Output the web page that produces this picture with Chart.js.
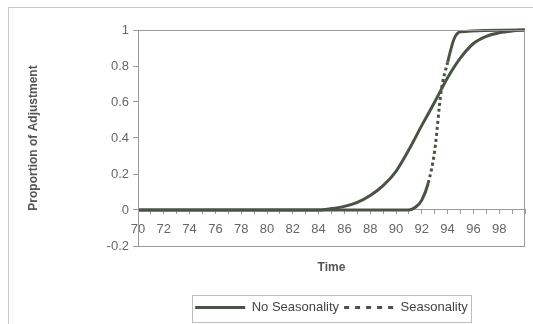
<!DOCTYPE html>
<html>
<head>
<meta charset="utf-8">
<script src="https://cdn.jsdelivr.net/npm/chart.js@4.4.1/dist/chart.umd.min.js"></script>
<style>
  body { margin: 0; background: #fff; }
  #wrap { width: 533px; height: 324px; }
</style>
</head>
<body>
<div id="wrap"><canvas id="chart"></canvas></div>
<script>
// values
const noSeasTime = [70, 84, 85, 86, 87, 88, 89, 90, 91, 92, 93, 94, 95, 96, 97, 98, 99, 100];
const noSeasValue = [0, 0, 0.008, 0.02, 0.042, 0.08, 0.135, 0.215, 0.335, 0.47, 0.6, 0.735, 0.845, 0.925, 0.965, 0.985, 0.995, 1];

const seasTime = [70, 91, 91.5, 92, 92.5, 93, 93.5, 94, 94.5, 95, 100];
const seasValue = [0, 0, 0.015, 0.055, 0.15, 0.33, 0.66, 0.82, 0.95, 0.99, 1];

const seriesNames = ['No Seasonality', 'Seasonality'];
const yTicks = [-0.2, 0, 0.2, 0.4, 0.6, 0.8, 1];

const lineColor = '#4a5446';
const axisColor = '#9a9a9a';
const textColor = '#555';

function toPoints(xs, ys) {
  return xs.map((x, i) => ({ x: x, y: ys[i] }));
}

// plot box, outer frame and legend frame
const framePlugin = {
  id: 'frames',
  beforeDraw(chart) {
    const ctx = chart.ctx;
    ctx.save();
    ctx.fillStyle = '#fff';
    ctx.fillRect(0, 0, chart.width, chart.height);
    ctx.strokeStyle = '#c8c8c8';
    ctx.lineWidth = 1;
    ctx.strokeRect(8.5, 7.5, 600, 400);
    ctx.restore();
  },
  afterDraw(chart) {
    const ctx = chart.ctx;
    const a = chart.chartArea;
    ctx.save();
    ctx.strokeStyle = axisColor;
    ctx.lineWidth = 1;
    ctx.strokeRect(Math.round(a.left) + 0.5, Math.round(a.top) + 0.5,
      Math.round(a.right - a.left) - 1, Math.round(a.bottom - a.top));
    const boxes = chart.legend.legendHitBoxes;
    if (boxes && boxes.length) {
      const l = Math.min(...boxes.map(b => b.left)) - 3;
      const r = Math.max(...boxes.map(b => b.left + b.width)) + 3;
      const t = Math.min(...boxes.map(b => b.top)) - 6;
      const btm = Math.max(...boxes.map(b => b.top + b.height)) + 8;
      ctx.strokeStyle = '#bdbdbd';
      ctx.strokeRect(Math.round(l) + 0.5, Math.round(t) + 0.5, Math.round(r - l), Math.round(btm - t));
    }
    ctx.restore();
  }
};

const ctx = document.getElementById('chart').getContext('2d');

new Chart(ctx, {
  type: 'line',
  data: {
    datasets: [
      {
        label: seriesNames[0],
        data: toPoints(noSeasTime, noSeasValue),
        borderColor: lineColor,
        borderWidth: 3,
        pointRadius: 0,
        pointStyle: 'line',
        cubicInterpolationMode: 'monotone',
        clip: 5,
      },
      {
        label: seriesNames[1],
        data: toPoints(seasTime, seasValue),
        borderColor: lineColor,
        borderWidth: 3,
        pointRadius: 0,
        pointStyle: 'line',
        cubicInterpolationMode: 'monotone',
        clip: 5,
        segment: {
          // steep middle part shows the dashes
          borderDash: (c) => (c.p0.parsed.y >= 0.15 && c.p1.parsed.y <= 0.86) ? [3, 3] : undefined,
        },
      },
    ],
  },
  options: {
    responsive: true,
    maintainAspectRatio: false,
    animation: false,
    parsing: false,
    layout: {
      padding: { top: 30, right: 3, bottom: 0, left: 20 },
    },
    scales: {
      x: {
        type: 'linear',
        position: 'bottom',
        min: 70,
        max: 100,
        ticks: { display: false },
        grid: { display: false },
        border: { display: false },
        title: {
          display: true,
          text: 'Time',
          color: textColor,
          font: { family: 'Liberation Sans, Arial, sans-serif', size: 12, weight: 'bold' },
          padding: { top: 0, bottom: 21 },
        },
        afterFit: (s) => { s.height = 50; },
      },
      x2: {
        type: 'linear',
        axis: 'x',
        position: { y: 0 },
        min: 70,
        max: 100,
        ticks: {
          stepSize: 1,
          autoSkip: false,
          maxRotation: 0,
          padding: 8,
          color: '#666',
          font: { family: 'Liberation Sans, Arial, sans-serif', size: 13 },
          callback: (v) => (v % 2 === 0 && v < 100) ? String(v) : '',
        },
        grid: { drawOnChartArea: false, tickLength: 4, color: axisColor },
        border: { color: axisColor },
        afterFit: (s) => { s.height = 0; },
      },
      y: {
        min: -0.2,
        max: 1,
        afterBuildTicks: (s) => { s.ticks = yTicks.map(v => ({ value: v })); },
        ticks: {
          padding: 4,
          color: '#666',
          font: { family: 'Liberation Sans, Arial, sans-serif', size: 13 },
          callback: (v) => String(+v.toFixed(1)),
        },
        grid: { drawOnChartArea: false, tickLength: 5, color: axisColor },
        border: { color: axisColor },
        title: {
          display: true,
          text: 'Proportion of Adjustment',
          color: textColor,
          font: { family: 'Liberation Sans, Arial, sans-serif', size: 12, weight: 'bold' },
          padding: { top: 6, bottom: 0 },
        },
        afterFit: (s) => { s.width = 118; },
      },
    },
    plugins: {
      legend: {
        position: 'bottom',
        fullSize: false,
        labels: {
          usePointStyle: true,
          pointStyleWidth: 50,
          padding: 5,
          color: '#444',
          font: { family: 'Liberation Sans, Arial, sans-serif', size: 13 },
          generateLabels: (chart) => {
            const items = Chart.defaults.plugins.legend.labels.generateLabels(chart);
            items.forEach((it, i) => {
              it.pointStyle = 'line';
              it.lineDash = i === 1 ? [5, 6] : [];
            });
            return items;
          },
        },
      },
      tooltip: { enabled: false },
    },
  },
  plugins: [framePlugin],
});
</script>
</body>
</html>
